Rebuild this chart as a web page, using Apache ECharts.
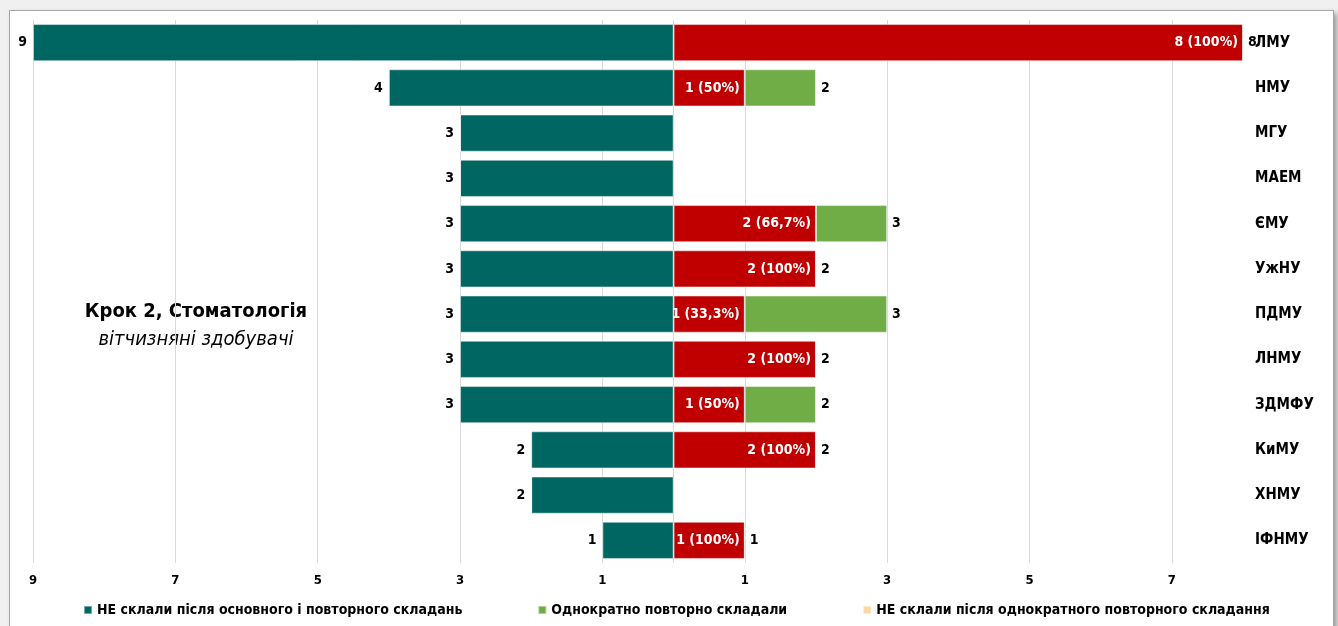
<!DOCTYPE html>
<html>
<head>
<meta charset="utf-8">
<script src="https://cdn.jsdelivr.net/npm/echarts@6/dist/echarts.min.js"></script>
<style>
  html,body{margin:0;padding:0;width:1338px;height:626px;overflow:hidden;background:#f0f0f0;}
  #frame{position:absolute;left:9px;top:10px;width:1323px;height:640px;background:#fff;border:1px solid #a6a6a6;box-shadow:3px 3px 5px rgba(0,0,0,0.35);}
  #chart{position:absolute;left:0;top:0;width:1338px;height:626px;}
</style>
</head>
<body>
<div id="frame"></div>
<div id="chart"></div>
<script>
const categories = ['ЛМУ','НМУ','МГУ','МАЕМ','ЄМУ','УжНУ','ПДМУ','ЛНМУ','ЗДМФУ','КиМУ','ХНМУ','ІФНМУ'];
const failedAfterAll = [9,4,3,3,3,3,3,3,3,2,2,1];
const retookOnce = [8,2,0,0,3,2,3,2,2,2,0,1];
const failedAfterRetake = [8,1,0,0,2,2,1,2,1,2,0,1];
const tickValues = [-9,-7,-5,-3,-1,1,3,5,7];
const seriesNames = ['НЕ склали після основного і повторного складань','Однократно повторно складали','НЕ склали після однократного повторного складання'];

const FONT = "'DejaVu Sans Condensed','Liberation Sans Narrow','Arial Narrow',sans-serif";
const TEAL = '#006661', RED = '#C00000', GREEN = '#70AD47', PEACH = '#FDD7A3';

const yCats = categories.slice().reverse();
const rev = a => a.slice().reverse();
const leftVals = rev(failedAfterAll).map(v => -v);
const redVals = rev(failedAfterRetake);
const totVals = rev(retookOnce);
const greenVals = totVals.map((t, i) => t - redVals[i]);
const zeroVals = totVals.map(() => 0);

function pct(f, t) {
  let p = (f / t * 100).toFixed(1);
  if (p.endsWith('.0')) p = p.slice(0, -2);
  return p.replace('.', ',');
}

const lineColors = [];
for (let v = -9; v <= 8; v++) {
  lineColors.push((tickValues.includes(v) || v === 0) ? '#d9d9d9' : 'rgba(0,0,0,0)');
}

const chart = echarts.init(document.getElementById('chart'));
const barBorder = {borderColor: 'rgba(255,255,255,0.45)', borderWidth: 1};
chart.setOption({
  animation: false,
  backgroundColor: 'transparent',
  textStyle: {fontFamily: FONT},
  grid: {left: 33, right: 95, top: 20, bottom: 63, containLabel: false},
  xAxis: {
    type: 'value', min: -9, max: 8, interval: 1,
    axisLine: {show: false}, axisTick: {show: false},
    splitLine: {show: true, lineStyle: {color: lineColors, width: 1}},
    axisLabel: {
      margin: 11, color: '#000', fontWeight: 'bold', fontSize: 13, fontFamily: FONT,
      formatter: v => tickValues.includes(v) ? String(Math.abs(v)) : ''
    }
  },
  yAxis: {
    type: 'category', data: yCats, position: 'right',
    axisLine: {show: false}, axisTick: {show: false},
    axisLabel: {align: 'left', margin: 12, color: '#000', fontWeight: 'bold', fontSize: 15, fontFamily: FONT}
  },
  legend: {
    bottom: 4, left: 78, width: 1250, itemWidth: 8, itemHeight: 8, itemGap: 75, icon: 'rect',
    textStyle: {color: '#000', fontWeight: 'bold', fontSize: 14, fontFamily: FONT},
    data: [
      {name: seriesNames[0]},
      {name: seriesNames[1]},
      {name: seriesNames[2], itemStyle: {color: PEACH}}
    ]
  },
  graphic: [
    {type: 'text', x: 196, y: 312, style: {text: 'Крок 2, Стоматологія', font: "bold 20px " + FONT, fill: '#000', align: 'center', verticalAlign: 'middle'}},
    {type: 'text', x: 196, y: 340, style: {text: 'вітчизняні здобувачі', font: "italic 20px " + FONT, fill: '#000', align: 'center', verticalAlign: 'middle'}}
  ],
  series: [
    {
      name: seriesNames[0], type: 'bar', stack: 'a', data: leftVals, barCategoryGap: '18%',
      itemStyle: Object.assign({color: TEAL}, barBorder),
      label: {show: true, position: 'left', distance: 6, color: '#000', fontWeight: 'bold', fontSize: 14, fontFamily: FONT,
        formatter: p => String(Math.abs(p.value))}
    },
    {
      name: seriesNames[2], type: 'bar', stack: 'a', data: redVals,
      itemStyle: Object.assign({color: RED}, barBorder),
      label: {show: true, position: 'insideRight', distance: 5, color: '#fff', fontWeight: 'bold', fontSize: 14, fontFamily: FONT,
        formatter: p => p.value > 0 ? p.value + ' (' + pct(p.value, totVals[p.dataIndex]) + '%)' : ''}
    },
    {
      name: seriesNames[1], type: 'bar', stack: 'a', data: greenVals,
      itemStyle: Object.assign({color: GREEN}, barBorder)
    },
    {
      name: 'total', type: 'bar', stack: 'a', data: zeroVals,
      itemStyle: {color: 'rgba(0,0,0,0)'},
      label: {show: true, position: 'right', distance: 5, color: '#000', fontWeight: 'bold', fontSize: 14, fontFamily: FONT,
        formatter: p => totVals[p.dataIndex] > 0 ? String(totVals[p.dataIndex]) : ''}
    }
  ]
});
</script>
</body>
</html>
